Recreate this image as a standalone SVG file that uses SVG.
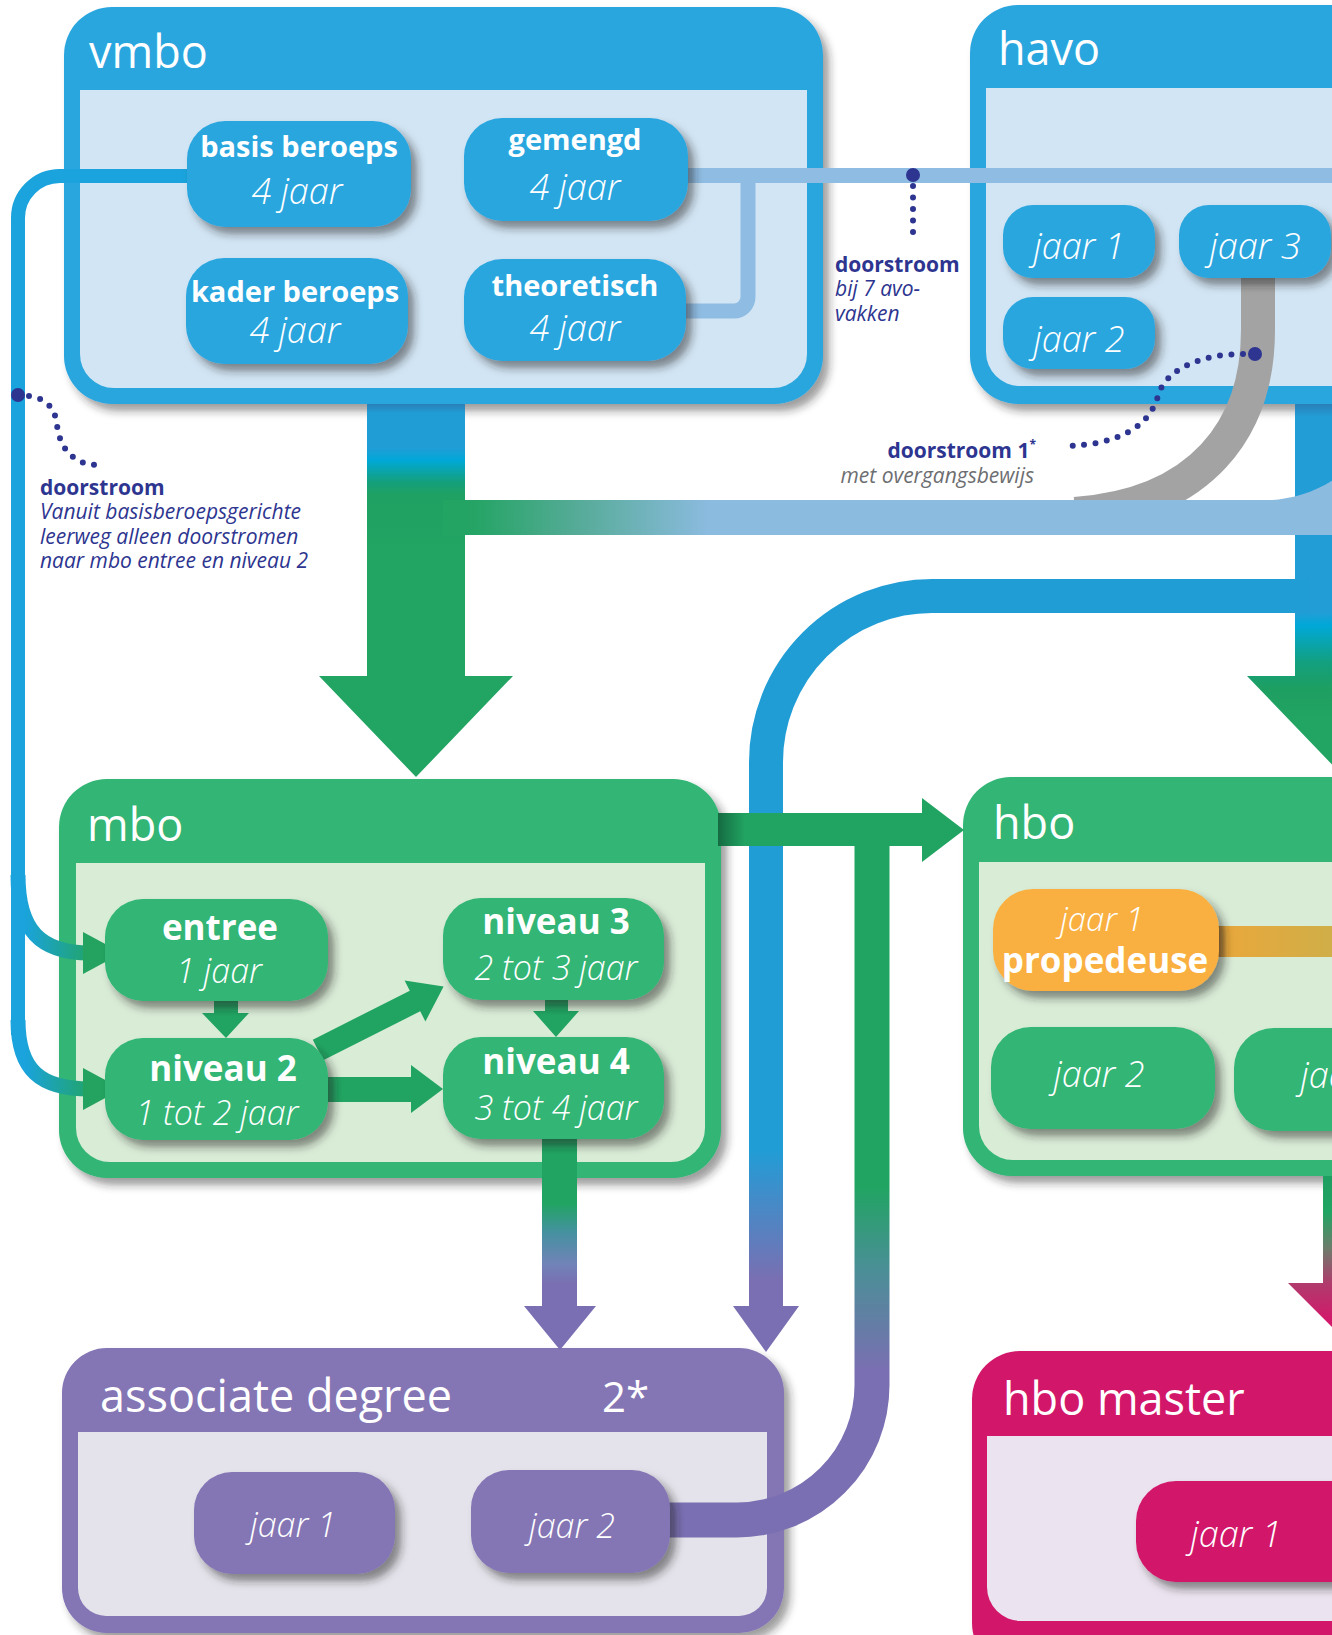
<svg xmlns="http://www.w3.org/2000/svg" width="1332" height="1635" viewBox="0 0 1332 1635">
<style>
text{font-family:'Open Sans','Liberation Sans',sans-serif}
.hdr{font-size:45px;fill:#fff}
.tb{font-weight:700;fill:#fff;text-anchor:middle}
.ji{font-style:italic;font-weight:300;fill:#fff;text-anchor:middle}
.ab{font-weight:700;font-size:21px;fill:#2d3590}
.ai{font-style:italic;font-size:21px;fill:#2d3590}
.dots{fill:none;stroke:#2d3590;stroke-width:6;stroke-linecap:round;stroke-dasharray:0 11.5}
.blueN{fill:#2ca6df}
.greenN{fill:#30b574}
.purpN{fill:#8474b4}
.magN{fill:#d2196b}
</style>
<defs>
<filter id="sh" x="-15%" y="-15%" width="140%" height="150%"><feDropShadow dx="6" dy="7" stdDeviation="4" flood-color="#222" flood-opacity="0.5"/></filter>
<filter id="shb" x="-5%" y="-5%" width="115%" height="115%"><feDropShadow dx="6" dy="7" stdDeviation="4" flood-color="#222" flood-opacity="0.45"/></filter>
<linearGradient id="gVm" gradientUnits="userSpaceOnUse" x1="0" y1="404" x2="0" y2="560">
<stop offset="0" stop-color="#2a7fb8"/><stop offset="0.06" stop-color="#219dd6"/><stop offset="0.28" stop-color="#219dd6"/><stop offset="0.36" stop-color="#00a8d8"/><stop offset="0.5" stop-color="#14a07c"/><stop offset="0.58" stop-color="#1fa163"/><stop offset="1" stop-color="#22a462"/></linearGradient>
<linearGradient id="gHa" gradientUnits="userSpaceOnUse" x1="0" y1="404" x2="0" y2="720">
<stop offset="0" stop-color="#2a7fb8"/><stop offset="0.04" stop-color="#229dd6"/><stop offset="0.66" stop-color="#229dd6"/><stop offset="0.7" stop-color="#00a8d8"/><stop offset="0.82" stop-color="#13a07e"/><stop offset="0.9" stop-color="#1e9f62"/><stop offset="1" stop-color="#22a462"/></linearGradient>
<linearGradient id="gBand" gradientUnits="userSpaceOnUse" x1="443" y1="0" x2="710" y2="0">
<stop offset="0" stop-color="#22a462"/><stop offset="0.12" stop-color="#25a465"/><stop offset="0.5" stop-color="#55ab97"/><stop offset="1" stop-color="#8cbbe0"/></linearGradient>
<linearGradient id="gBlueP" gradientUnits="userSpaceOnUse" x1="0" y1="579" x2="0" y2="1310">
<stop offset="0" stop-color="#219dd6"/><stop offset="0.78" stop-color="#219dd6"/><stop offset="0.96" stop-color="#7a6fb2"/></linearGradient>
<linearGradient id="gGreenP" gradientUnits="userSpaceOnUse" x1="0" y1="840" x2="0" y2="1520">
<stop offset="0" stop-color="#21a462"/><stop offset="0.51" stop-color="#21a462"/><stop offset="0.63" stop-color="#4a8f96"/><stop offset="0.78" stop-color="#7a6fb2"/><stop offset="1" stop-color="#7a6fb2"/></linearGradient>
<linearGradient id="gN4" gradientUnits="userSpaceOnUse" x1="0" y1="1139" x2="0" y2="1300">
<stop offset="0" stop-color="#21a462"/><stop offset="0.4" stop-color="#21a462"/><stop offset="0.58" stop-color="#4591a0"/><stop offset="0.78" stop-color="#7183b8"/><stop offset="0.9" stop-color="#7a6fb2"/></linearGradient>
<linearGradient id="gMa" gradientUnits="userSpaceOnUse" x1="0" y1="1177" x2="0" y2="1320">
<stop offset="0" stop-color="#1e9f62"/><stop offset="0.25" stop-color="#22a462"/><stop offset="0.5" stop-color="#6e7c6c"/><stop offset="0.75" stop-color="#b13a6c"/><stop offset="1" stop-color="#d2196b"/></linearGradient>
<linearGradient id="gLeft" gradientUnits="userSpaceOnUse" x1="25" y1="0" x2="95" y2="0">
<stop offset="0" stop-color="#1aa3dc"/><stop offset="1" stop-color="#22a462"/></linearGradient>
<linearGradient id="gOr" gradientUnits="userSpaceOnUse" x1="1215" y1="0" x2="1332" y2="0">
<stop offset="0" stop-color="#9a6a2a"/><stop offset="0.1" stop-color="#e8a83c"/><stop offset="1" stop-color="#d0ae48"/></linearGradient>
<linearGradient id="gBar" gradientUnits="userSpaceOnUse" x1="718" y1="0" x2="745" y2="0">
<stop offset="0" stop-color="#156b42"/><stop offset="1" stop-color="#21a462"/></linearGradient>
</defs>
<rect width="1332" height="1635" fill="#fff"/>

<!-- containers -->
<g id="vmbo">
<rect x="64" y="7" width="759" height="397" rx="48" fill="#2ca6df" filter="url(#shb)"/>
<path d="M80,90 H807 V354 A34 34 0 0 1 773,388 H114 A34 34 0 0 1 80,354 Z" fill="#d2e5f4"/>
<text class="hdr" x="89" y="68">vmbo</text>
</g>
<g id="havo">
<rect x="970" y="5" width="430" height="399" rx="48" fill="#2ca6df" filter="url(#shb)"/>
<path d="M986,88 H1400 V386 H1020 A34 34 0 0 1 986,352 Z" fill="#d2e5f4"/>
<text class="hdr" x="998" y="65">havo</text>
</g>
<g id="mbo">
<rect x="59" y="779" width="662" height="399" rx="48" fill="#30b574" filter="url(#shb)"/>
<path d="M76,863 H705 V1128 A34 34 0 0 1 671,1162 H110 A34 34 0 0 1 76,1128 Z" fill="#d9ecd6"/>
<text class="hdr" x="87" y="841">mbo</text>
</g>
<g id="hbo">
<rect x="963" y="777" width="437" height="399" rx="48" fill="#30b574" filter="url(#shb)"/>
<path d="M979,862 H1400 V1160 H1013 A34 34 0 0 1 979,1126 Z" fill="#d9ecd6"/>
<text class="hdr" x="993" y="839">hbo</text>
</g>
<g id="associate-degree">
<rect x="62" y="1348" width="722" height="285" rx="45" fill="#8474b4" filter="url(#shb)"/>
<path d="M78,1432 H767 V1588 A28 28 0 0 1 739,1616 H106 A28 28 0 0 1 78,1588 Z" fill="#e4e3eb"/>
<text class="hdr" x="100" y="1412">associate degree</text>
<text class="hdr" x="602" y="1412" style="font-size:42px">2*</text>
</g>
<g id="hbo-master">
<rect x="972" y="1351" width="430" height="320" rx="48" fill="#d2196b" filter="url(#shb)"/>
<path d="M987,1436 H1400 V1621 H1021 A34 34 0 0 1 987,1587 Z" fill="#ebe3ef"/>
<text class="hdr" x="1003" y="1415">hbo master</text>
</g>

<!-- connectors -->
<g id="connectors">
<polygon points="367,404 465,404 465,676 513,676 416,777 319,676 367,676" fill="url(#gVm)"/>
<polygon points="1295,404 1393,404 1393,676 1441,676 1344,777 1247,676 1295,676" fill="url(#gHa)"/>
<path d="M1310,596 H932 A166 166 0 0 0 766,762 V1310" fill="none" stroke="url(#gBlueP)" stroke-width="34"/>
<polygon points="733,1306 799,1306 766,1352" fill="#7a6fb2"/>
<path d="M1258,272 V330 C1258,430 1200,505 1075,514" fill="none" stroke="#a3a3a3" stroke-width="34"/>
<rect x="443" y="500" width="897" height="35" fill="url(#gBand)"/>
<path d="M1250,501 C1290,501 1315,494 1345,472 L1345,505 Z" fill="#8cbbe0"/>
<path d="M680,175.5 H1332" fill="none" stroke="#8fbce2" stroke-width="15"/>
<path d="M680,311 H734 A14 14 0 0 0 748,297 V176" fill="none" stroke="#8fbce2" stroke-width="15"/>
<path d="M205,176 H60 A42 42 0 0 0 18,218 V1035" fill="none" stroke="#1aa3dc" stroke-width="14"/>
<path d="M18,875 C18,930 40,953 90,953" fill="none" stroke="url(#gLeft)" stroke-width="15"/>
<path d="M18,1020 C18,1070 40,1089 90,1089" fill="none" stroke="url(#gLeft)" stroke-width="15"/>
<polygon points="83,932 122,953 83,974" fill="#23a35f"/>
<polygon points="83,1068 122,1089 83,1110" fill="#23a35f"/>
<polygon points="214,995 238,995 238,1013 249,1013 226,1038 202,1013 214,1013" fill="#21a462"/>
<polygon points="545,995 568,995 568,1011 579,1011 556,1037 533,1011 545,1011" fill="#21a462"/>
<polygon points="325,1077 411,1077 411,1065 443,1089 411,1113 411,1102 325,1102" fill="#21a462"/>
<polygon points="312.8,1039.7 409.8,990.7 404.6,980.5 443.6,986.6 425.4,1021.5 420.2,1011.3 323.2,1060.3" fill="#21a462"/>
<path d="M872,840 V1385 A135 135 0 0 1 737,1520 H660" fill="none" stroke="url(#gGreenP)" stroke-width="35"/>
<rect x="718" y="813" width="206" height="33" fill="url(#gBar)"/>
<polygon points="922,798 964,830 922,862" fill="#21a462"/>
<polygon points="542,1136 577,1136 577,1306 596,1306 560,1350 524,1306 542,1306" fill="url(#gN4)"/>
<polygon points="1323,1176 1373,1176 1373,1283 1408,1283 1348,1343 1288,1283 1323,1283" fill="url(#gMa)"/>
<rect x="1210" y="926" width="130" height="31" fill="url(#gOr)"/>
</g>

<!-- annotations -->
<g id="annotations">
<path class="dots" d="M913,186 V240"/>
<circle cx="913" cy="175" r="7" fill="#2d3590"/>
<text class="ab" x="835" y="272">doorstroom</text>
<text class="ai" x="835" y="296">bij 7 avo-</text>
<text class="ai" x="835" y="321">vakken</text>
<path class="dots" d="M1243,354 C1200,354 1165,370 1158,396 C1150,425 1120,446 1061,446"/>
<circle cx="1255" cy="354" r="7" fill="#2d3590"/>
<text class="ab" x="1036" y="458" text-anchor="end">doorstroom 1<tspan dy="-9" style="font-size:12px">*</tspan></text>
<text class="ai" x="1034" y="483" text-anchor="end" style="fill:#6d6e71">met overgangsbewijs</text>
<path class="dots" d="M29,396 C45,398 55,407 57,425 C60,450 75,465 98,465"/>
<circle cx="18" cy="395" r="7" fill="#2d3590"/>
<text class="ab" x="40" y="495">doorstroom</text>
<text class="ai" x="40" y="519">Vanuit basisberoepsgerichte</text>
<text class="ai" x="40" y="544">leerweg alleen doorstromen</text>
<text class="ai" x="40" y="568">naar mbo entree en niveau 2</text>
</g>

<!-- nodes -->
<g id="vmbo-basis-beroeps"><rect class="blueN" x="187" y="121" width="224" height="106" rx="38" filter="url(#sh)"/>
<text class="tb" x="299" y="157" font-size="29">basis beroeps</text><text class="ji" x="297" y="204" font-size="36">4 jaar</text></g>
<g id="vmbo-gemengd"><rect class="blueN" x="464" y="118" width="224" height="103" rx="38" filter="url(#sh)"/>
<text class="tb" x="575" y="150" font-size="29">gemengd</text><text class="ji" x="575" y="200" font-size="36">4 jaar</text></g>
<g id="vmbo-kader-beroeps"><rect class="blueN" x="186" y="258" width="222" height="106" rx="38" filter="url(#sh)"/>
<text class="tb" x="295" y="302" font-size="29">kader beroeps</text><text class="ji" x="295" y="343" font-size="36">4 jaar</text></g>
<g id="vmbo-theoretisch"><rect class="blueN" x="464" y="259" width="222" height="102" rx="38" filter="url(#sh)"/>
<text class="tb" x="575" y="296" font-size="29">theoretisch</text><text class="ji" x="575" y="341" font-size="36">4 jaar</text></g>

<g id="havo-jaar1"><rect class="blueN" x="1003" y="205" width="152" height="73" rx="30" filter="url(#sh)"/><text class="ji" x="1079" y="259" font-size="36">jaar 1</text></g>
<g id="havo-jaar3"><rect class="blueN" x="1179" y="205" width="152" height="73" rx="30" filter="url(#sh)"/><text class="ji" x="1255" y="259" font-size="36">jaar 3</text></g>
<g id="havo-jaar2"><rect class="blueN" x="1003" y="297" width="152" height="72" rx="30" filter="url(#sh)"/><text class="ji" x="1079" y="352" font-size="36">jaar 2</text></g>

<g id="mbo-entree"><rect class="greenN" x="105" y="899" width="223" height="102" rx="38" filter="url(#sh)"/>
<text class="tb" x="220" y="940" font-size="35">entree</text><text class="ji" x="219" y="983" font-size="34">1 jaar</text></g>
<g id="mbo-niveau2"><rect class="greenN" x="105" y="1038" width="223" height="102" rx="38" filter="url(#sh)"/>
<text class="tb" x="223" y="1081" font-size="35">niveau 2</text><text class="ji" x="217" y="1125" font-size="34">1 tot 2 jaar</text></g>
<g id="mbo-niveau3"><rect class="greenN" x="443" y="898" width="221" height="102" rx="38" filter="url(#sh)"/>
<text class="tb" x="556" y="934" font-size="35">niveau 3</text><text class="ji" x="556" y="980" font-size="34">2 tot 3 jaar</text></g>
<g id="mbo-niveau4"><rect class="greenN" x="443" y="1037" width="221" height="102" rx="38" filter="url(#sh)"/>
<text class="tb" x="556" y="1074" font-size="35">niveau 4</text><text class="ji" x="556" y="1120" font-size="34">3 tot 4 jaar</text></g>

<g id="hbo-jaar1-propedeuse"><rect x="993" y="889" width="226" height="102" rx="40" fill="#f9b041" filter="url(#sh)"/>
<text class="ji" x="1102" y="931" font-size="33">jaar 1</text><text class="tb" x="1105" y="973" font-size="35">propedeuse</text></g>
<g id="hbo-jaar2"><rect class="greenN" x="991" y="1027" width="224" height="102" rx="40" filter="url(#sh)"/><text class="ji" x="1099" y="1087" font-size="36">jaar 2</text></g>
<g id="hbo-jaar3"><rect class="greenN" x="1234" y="1028" width="226" height="103" rx="40" filter="url(#sh)"/><text class="ji" x="1346" y="1088" font-size="36">jaar 3</text></g>

<g id="ad-jaar1"><rect class="purpN" x="194" y="1472" width="201" height="102" rx="38" filter="url(#sh)"/><text class="ji" x="293" y="1537" font-size="34">jaar 1</text></g>
<g id="ad-jaar2"><rect class="purpN" x="471" y="1470" width="199" height="103" rx="38" filter="url(#sh)"/><text class="ji" x="572" y="1538" font-size="34">jaar 2</text></g>

<g id="master-jaar1"><rect class="magN" x="1136" y="1481" width="264" height="101" rx="40" filter="url(#sh)"/><text class="ji" x="1236" y="1547" font-size="36">jaar 1</text></g>
</svg>
